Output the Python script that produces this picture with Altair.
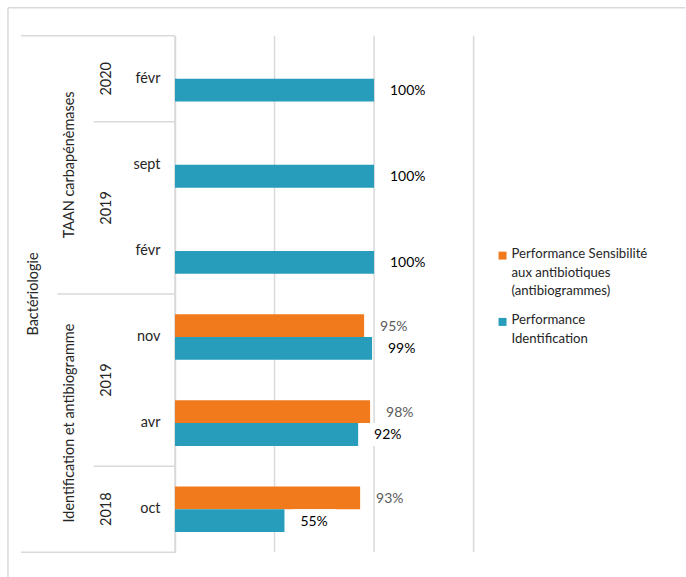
import altair as alt
import pandas as pd

# ---- data -----------------------------------------------------------------
top_label = "Bactériologie"
groups = ["TAAN carbapénèmases"] * 3 + ["Identification et antibiogramme"] * 3
years = ["2020", "2019", "2019", "2019", "2019", "2018"]
months = ["févr", "sept", "févr", "nov", "avr", "oct"]
sensibilite = [None, None, None, 95, 98, 93]
identification = [100, 100, 100, 99, 92, 55]

series_names = [
    "Performance Sensibilité aux antibiotiques (antibiogrammes)",
    "Performance Identification",
]
series_lines = [
    ["Performance Sensibilité", "aux antibiotiques", "(antibiogrammes)"],
    ["Performance", "Identification"],
]
series_colors = ["#F07A1C", "#279DBB"]
value_label_colors = ["#595959", "#000000"]
grid_values = [0, 50, 100, 150]

# ---- styling --------------------------------------------------------------
FONT = "Lato"
TEXT = "#262626"
LINE = "#d9d9d9"
AXIS_FS = 14.5
LEGEND_FS = 13.2
VALUE_FS = 14
ROW_RANGE = [28, 546]
AXIS_X = 167.5
VIEW_W, VIEW_H = 679, 571

# ---- tables ---------------------------------------------------------------
n_rows = len(months)
row_keys = [f"{g}|{y}|{m}" for g, y, m in zip(groups, years, months)]

bar_rows = []
for i, key in enumerate(row_keys):
    for name, vals in zip(series_names, [sensibilite, identification]):
        if vals[i] is not None:
            bar_rows.append({"row": key, "series": name, "value": vals[i],
                             "label": f"{vals[i]}%"})
bars_df = pd.DataFrame(bar_rows)


def runs(keys):
    out, start = [], 0
    for i in range(1, len(keys) + 1):
        if i == len(keys) or keys[i] != keys[start]:
            out.append((start, i, keys[start]))
            start = i
    return out


hier_rows = [{"level": 0, "mid": n_rows / 2, "text": top_label}]
for s, e, g in runs(groups):
    hier_rows.append({"level": 1, "mid": (s + e) / 2, "text": g})
for s, e, gy in runs(list(zip(groups, years))):
    hier_rows.append({"level": 2, "mid": (s + e) / 2, "text": gy[1]})
hier_df = pd.DataFrame(hier_rows)

sep_rows = []
for b in range(n_rows + 1):
    if b in (0, n_rows):
        sep_rows.append({"b": b, "level": 0})
    elif groups[b] != groups[b - 1]:
        sep_rows.append({"b": b, "level": 1})
    elif years[b] != years[b - 1]:
        sep_rows.append({"b": b, "level": 2})
sep_df = pd.DataFrame(sep_rows)

grid_df = pd.DataFrame({"v": grid_values})
legend_df = pd.DataFrame({"series": series_names,
                          "text": ["\n".join(l) for l in series_lines]})
frame_df = pd.DataFrame({"edge": ["top", "left"]})

# ---- scales ---------------------------------------------------------------
x_val = alt.Scale(domain=[0, 150], range=[AXIS_X, 467], nice=False, zero=False)
row_band = alt.Scale(domain=row_keys, range=ROW_RANGE, paddingInner=0, paddingOuter=0)
row_lin = alt.Scale(domain=[0, n_rows], range=ROW_RANGE, nice=False, zero=False)
series_off = alt.Scale(domain=series_names, paddingInner=0, paddingOuter=0.89)
series_col = alt.Scale(domain=series_names, range=series_colors)
level_text = alt.Scale(domain=[0, 2], range=[26, 99], nice=False, zero=False)
level_rule = alt.Scale(domain=[0, 2], range=[13, 86], nice=False, zero=False)
legend_y = alt.Scale(type="point", domain=series_names, range=[248.5, 315], padding=0)

# ---- layers ---------------------------------------------------------------
# chart-area frame (top and left edges; the others fall outside the page)
frame_top = alt.Chart(frame_df).transform_filter(alt.datum.edge == "top").mark_rule(
    color=LINE, strokeWidth=1.5
).encode(x=alt.value(0), x2=alt.value(VIEW_W), y=alt.value(0))
frame_left = alt.Chart(frame_df).transform_filter(alt.datum.edge == "left").mark_rule(
    color=LINE, strokeWidth=1.5
).encode(x=alt.value(0), y=alt.value(0), y2=alt.value(VIEW_H))

grid = alt.Chart(grid_df).mark_rule(color=LINE, strokeWidth=1.5).encode(
    x=alt.X("v:Q", scale=x_val, axis=None),
    y=alt.Y(datum=0, type="quantitative", scale=row_lin, axis=None),
    y2=alt.Y2(datum=n_rows),
)

bars = alt.Chart(bars_df).mark_bar().encode(
    x=alt.X("value:Q", scale=x_val, axis=None),
    y=alt.Y("row:N", scale=row_band, axis=alt.Axis(
        title=None, offset=-AXIS_X, ticks=False, grid=False,
        domainColor=LINE, domainWidth=1.5, labelPadding=15,
        labelExpr="split(datum.label, '|')[2]", labelFont=FONT,
        labelFontSize=AXIS_FS, labelColor=TEXT, labelAlign="right")),
    yOffset=alt.YOffset("series:N", scale=series_off),
    color=alt.Color("series:N", scale=series_col, legend=None),
)

boxes = alt.Chart(bars_df).transform_filter(
    alt.datum.series == series_names[1]
).mark_rect(color="white", xOffset=8, x2Offset=52, yOffset=-3).encode(
    x=alt.X("value:Q", scale=x_val, axis=None),
    x2="value:Q",
    y=alt.Y("row:N", scale=row_band, axis=None),
    yOffset=alt.YOffset("series:N", scale=series_off),
)

value_labels = alt.Chart(bars_df).mark_text(
    align="left", baseline="middle", dx=16, dy=1, fontSize=VALUE_FS, font=FONT
).encode(
    x=alt.X("value:Q", scale=x_val, axis=None),
    y=alt.Y("row:N", scale=row_band, axis=None),
    yOffset=alt.YOffset("series:N", scale=series_off),
    text="label:N",
    color=alt.condition(alt.datum.series == series_names[0],
                        alt.value(value_label_colors[0]),
                        alt.value(value_label_colors[1])),
)

hier_text = alt.Chart(hier_df).mark_text(
    angle=270, align="center", baseline="middle", fontSize=AXIS_FS, font=FONT,
    color=TEXT
).encode(
    x=alt.X("level:Q", scale=level_text, axis=None),
    y=alt.Y("mid:Q", scale=row_lin, axis=None),
    text="text:N",
)

separators = alt.Chart(sep_df).mark_rule(color=LINE, strokeWidth=1.5).encode(
    x=alt.X("level:Q", scale=level_rule, axis=None),
    x2=alt.value(AXIS_X),
    y=alt.Y("b:Q", scale=row_lin, axis=None),
)

legend_marks = alt.Chart(legend_df).mark_square(size=64, opacity=1).encode(
    x=alt.value(496),
    y=alt.Y("series:N", scale=legend_y, axis=None),
    color=alt.Color("series:N", scale=series_col, legend=None),
)

legend_text = alt.Chart(legend_df).mark_text(
    align="left", baseline="top", dy=-8, lineBreak="\n", lineHeight=19,
    fontSize=LEGEND_FS, font=FONT, color=TEXT
).encode(
    x=alt.value(505),
    y=alt.Y("series:N", scale=legend_y, axis=None),
    text="text:N",
)

chart = alt.layer(
    frame_top, frame_left, grid, separators, bars, boxes, value_labels,
    hier_text, legend_marks, legend_text
).resolve_scale(
    x="independent", y="independent", color="independent"
).properties(
    width=VIEW_W, height=VIEW_H,
    padding={"left": 7, "top": 6, "right": 0, "bottom": 0},
).configure(font=FONT).configure_view(stroke=None)

chart.save("out.html", embed_options={"renderer": "svg", "actions": False})
